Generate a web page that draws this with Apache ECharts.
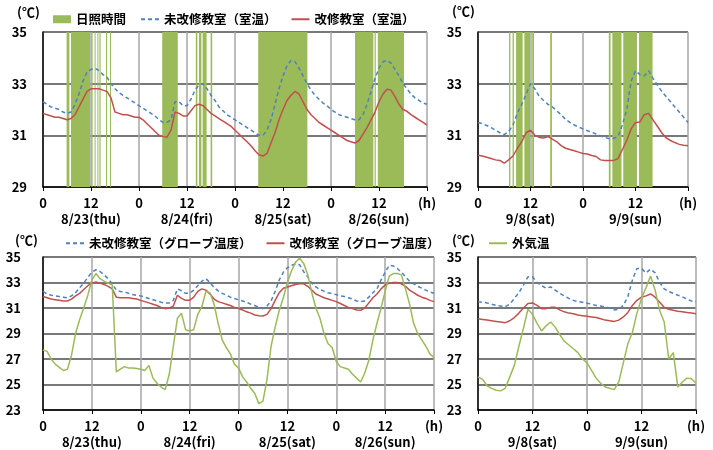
<!DOCTYPE html>
<html>
<head>
<meta charset="utf-8">
<script src="https://cdn.jsdelivr.net/npm/echarts@6/dist/echarts.min.js"></script>
<style>
html, body { margin: 0; padding: 0; background: #fff; }
#chart { width: 713px; height: 450px; }
</style>
</head>
<body>
<div id="chart"></div>
<script>
// 値は1時間ごと（0h〜）。8月は4日分(0〜96h)、9月は2日分(0〜48h)
const datesAug = ['8/23(thu)', '8/24(fri)', '8/25(sat)', '8/26(sun)'];
const datesSep = ['9/8(sat)', '9/9(sun)'];

// 室温 8/23〜8/26
const roomOldAug = [
    32.3, 32.2, 32.1, 32.05, 32.0, 31.9, 31.85, 31.9, 32.2, 32.6, 33.1, 33.45, 33.55, 33.6, 33.5, 33.35, 33.25, 33.0, 32.8, 32.65, 32.55, 32.45, 32.35, 32.25,
    32.15, 32.05, 31.95, 31.85, 31.75, 31.6, 31.5, 31.5, 31.6, 32.3, 32.3, 32.15, 32.15, 32.4, 32.75, 32.95, 33.0, 32.8, 32.55, 32.35, 32.1, 31.95, 31.8, 31.7,
    31.6, 31.5, 31.4, 31.3, 31.2, 31.1, 31.0, 31.0, 31.2, 31.6, 32.2, 32.8, 33.3, 33.7, 33.9, 33.85, 33.6, 33.3, 33.0, 32.75, 32.55, 32.4, 32.25, 32.15,
    32.0, 31.9, 31.8, 31.75, 31.7, 31.65, 31.6, 31.6, 31.8, 32.2, 32.7, 33.2, 33.6, 33.85, 33.9, 33.8, 33.55, 33.3, 33.0, 32.8, 32.6, 32.45, 32.35, 32.25, 32.2
];
const roomNewAug = [
    31.85, 31.8, 31.75, 31.7, 31.7, 31.65, 31.6, 31.65, 31.8, 32.1, 32.4, 32.7, 32.8, 32.8, 32.8, 32.75, 32.7, 32.45, 31.9, 31.85, 31.8, 31.8, 31.75, 31.7,
    31.7, 31.6, 31.45, 31.3, 31.15, 31.0, 30.95, 30.93, 31.2, 31.9, 31.85, 31.75, 31.75, 31.95, 32.15, 32.2, 32.15, 32.0, 31.85, 31.75, 31.65, 31.55, 31.45, 31.35,
    31.2, 31.05, 30.9, 30.75, 30.6, 30.4, 30.25, 30.2, 30.3, 30.7, 31.1, 31.6, 32.0, 32.35, 32.55, 32.7, 32.6, 32.3, 32.0, 31.8, 31.65, 31.5, 31.4, 31.3,
    31.2, 31.1, 31.0, 30.9, 30.8, 30.75, 30.7, 30.8, 31.05, 31.3, 31.6, 31.9, 32.3, 32.6, 32.78, 32.75, 32.5, 32.2, 32.0, 31.93, 31.8, 31.7, 31.6, 31.5, 31.4
];
// 日照時間（日照のあった時間帯 [開始h, 終了h]）
const sunAug = [
    [5.9, 6.6], [7.0, 11.75], [12.1, 12.4], [12.9, 13.1], [13.6, 13.8], [14.1, 14.4], [15.75, 16.0], [16.75, 17.0],
    [29.8, 33.7], [38.2, 38.6], [39.0, 39.6], [39.9, 40.9], [41.9, 42.3],
    [53.8, 66.1],
    [78.0, 82.6], [82.9, 83.2], [83.7, 90.25]
];

// 室温 9/8〜9/9
const roomOldSep = [
    31.5, 31.45, 31.38, 31.3, 31.2, 31.1, 31.03, 31.15, 31.4, 31.85, 32.2, 32.6, 33.0, 32.8, 32.5, 32.35, 32.2, 32.1, 31.95, 31.8, 31.62, 31.5, 31.4, 31.32,
    31.25, 31.18, 31.12, 31.05, 30.98, 30.92, 30.87, 30.88, 30.95, 31.4, 32.0, 33.1, 33.5, 33.35, 33.3, 33.5, 33.2, 32.95, 32.7, 32.5, 32.3, 32.1, 31.9, 31.7, 31.5
];
const roomNewSep = [
    30.23, 30.2, 30.15, 30.1, 30.05, 30.03, 29.92, 30.05, 30.2, 30.5, 30.75, 31.1, 31.2, 31.0, 30.92, 30.9, 30.95, 30.85, 30.75, 30.6, 30.5, 30.45, 30.4, 30.35,
    30.3, 30.28, 30.22, 30.18, 30.05, 30.03, 30.03, 30.03, 30.1, 30.45, 30.8, 31.25, 31.5, 31.52, 31.8, 31.85, 31.6, 31.35, 31.1, 30.9, 30.8, 30.72, 30.65, 30.62, 30.6
];
const sunSep = [
    [7.1, 7.4], [7.9, 8.2], [8.7, 10.2], [10.6, 11.9], [12.4, 12.8], [16.5, 16.9],
    [29.9, 30.3], [30.7, 32.8], [33.2, 36.3], [36.8, 39.9]
];

// グローブ温度・外気温 8/23〜8/26
const globeOldAug = [
    32.3, 32.1, 32.0, 31.95, 31.9, 31.85, 31.8, 31.95, 32.2, 32.6, 32.95, 33.4, 33.8, 34.0, 33.86, 33.6, 33.3, 32.9, 32.4, 32.3, 32.25, 32.15, 32.05, 32.0,
    31.95, 31.85, 31.75, 31.65, 31.55, 31.45, 31.38, 31.4, 31.6, 32.5, 32.35, 32.15, 32.15, 32.4, 32.75, 33.1, 33.3, 33.0, 32.6, 32.35, 32.15, 32.0, 31.85, 31.75,
    31.65, 31.55, 31.45, 31.3, 31.2, 31.05, 30.95, 31.15, 31.55, 32.3, 33.2, 33.8, 34.15, 34.35, 34.45, 34.4, 33.85, 33.45, 32.95, 32.65, 32.45, 32.32, 32.2, 32.12,
    32.05, 31.95, 31.9, 31.8, 31.7, 31.55, 31.5, 31.55, 31.85, 32.2, 32.5, 33.2, 33.8, 34.35, 34.3, 34.1, 33.8, 33.45, 33.1, 32.9, 32.7, 32.55, 32.4, 32.25, 32.15
];
const globeNewAug = [
    31.9, 31.8, 31.7, 31.65, 31.6, 31.55, 31.55, 31.7, 31.95, 32.15, 32.45, 32.75, 32.95, 33.05, 32.95, 32.85, 32.7, 32.5, 31.85, 31.8, 31.8, 31.8, 31.75, 31.7,
    31.6, 31.5, 31.4, 31.3, 31.2, 31.05, 30.95, 31.0, 31.15, 32.0, 31.75, 31.6, 31.6, 31.85, 32.3, 32.5, 32.4, 32.1, 31.7, 31.5, 31.4, 31.3, 31.2, 31.05,
    30.95, 30.85, 30.7, 30.6, 30.45, 30.4, 30.37, 30.5, 30.95, 31.6, 32.2, 32.55, 32.65, 32.75, 32.85, 32.9, 32.9, 32.7, 32.4, 32.1, 31.95, 31.8, 31.7, 31.6,
    31.5, 31.35, 31.2, 31.05, 30.95, 30.85, 30.82, 31.0, 31.4, 31.8, 32.1, 32.5, 32.8, 32.95, 33.0, 33.0, 32.9, 32.7, 32.4, 32.2, 32.0, 31.85, 31.75, 31.6, 31.5
];
const outdoorAug = [
    27.7, 27.6, 27.0, 26.6, 26.35, 26.1, 26.2, 27.3, 29.0, 30.1, 31.0, 32.0, 33.2, 33.7, 33.3, 33.1, 32.95, 32.8, 26.0, 26.2, 26.4, 26.3, 26.3, 26.25,
    26.2, 26.1, 26.5, 25.5, 25.1, 24.8, 24.6, 25.8, 28.0, 30.2, 30.6, 29.3, 29.2, 29.3, 30.5, 31.1, 32.3, 32.2, 31.3, 29.8, 28.5, 27.9, 27.4, 26.6,
    26.3, 25.6, 25.2, 24.7, 24.3, 23.5, 23.7, 25.4, 28.0, 29.5, 30.8, 31.8, 33.0, 33.9, 34.6, 34.9, 34.5, 33.6, 32.2, 31.0, 30.2, 29.0, 28.2, 27.9,
    26.8, 26.4, 26.3, 26.2, 25.8, 25.5, 25.2, 25.9, 26.9, 28.5, 29.8, 31.0, 32.3, 33.5, 33.7, 33.7, 33.6, 32.5, 31.3, 29.8, 29.0, 28.5, 28.0, 27.4, 27.1
];

// グローブ温度・外気温 9/8〜9/9
const globeOldSep = [
    31.5, 31.45, 31.4, 31.3, 31.2, 31.15, 31.1, 31.3, 31.75, 32.2, 32.8, 33.45, 33.45, 33.0, 32.75, 32.55, 32.65, 32.4, 32.15, 31.95, 31.75, 31.6, 31.5, 31.45,
    31.38, 31.3, 31.2, 31.15, 31.08, 31.0, 30.85, 30.9, 31.2, 31.9, 33.2, 34.1, 34.1, 33.75, 34.05, 33.75, 33.0, 32.5, 32.3, 32.15, 32.0, 31.88, 31.7, 31.55, 31.48
];
const globeNewSep = [
    30.15, 30.1, 30.05, 30.0, 29.95, 29.9, 29.85, 30.0, 30.25, 30.6, 31.0, 31.35, 31.4, 31.2, 30.95, 30.95, 31.05, 31.05, 30.85, 30.7, 30.6, 30.55, 30.45, 30.4,
    30.35, 30.3, 30.25, 30.15, 30.05, 30.0, 29.95, 30.05, 30.3, 30.65, 31.2, 31.6, 31.85, 31.95, 32.1, 31.85, 31.45, 31.05, 30.9, 30.82, 30.75, 30.7, 30.65, 30.6, 30.55
];
const outdoorSep = [
    25.6, 25.4, 24.9, 24.7, 24.55, 24.5, 24.7, 25.6, 26.5, 28.0, 29.4, 30.9, 30.5, 29.8, 29.2, 29.6, 29.9, 29.5, 28.9, 28.4, 28.1, 27.8, 27.5, 27.0,
    26.7, 26.1, 25.5, 25.1, 24.8, 24.7, 24.6, 25.2, 26.7, 28.2, 29.1, 30.6, 31.75, 32.6, 33.5, 32.4, 30.8, 29.9, 27.0, 27.5, 24.8, 25.2, 25.5, 25.45, 25.1
];

const FONT = '"Noto Sans CJK JP", "Noto Sans", sans-serif';
const C_OLD = '#4f81bd';
const C_NEW = '#c0504d';
const C_OUT = '#9bbb59';
const C_SUN = '#9bbb59';

function toPairs(arr) {
    return arr.map((v, i) => [i, v]);
}

// 日照のあった時間帯を縦いっぱいの帯として描く
function renderSun(params, api) {
    let x0 = api.coord([api.value(0), 30])[0];
    let x1 = api.coord([api.value(1), 30])[0];
    let cs = params.coordSys;
    return {
        type: 'rect',
        shape: { x: x0, y: cs.y, width: Math.max(x1 - x0, 1), height: cs.height },
        style: { fill: C_SUN }
    };
}

function xAxisOf(gridIndex, max, dates) {
    return {
        type: 'value',
        gridIndex: gridIndex,
        min: 0,
        max: max,
        interval: 12,
        axisLine: { show: true, onZero: false, lineStyle: { color: '#000', width: 1.5 } },
        axisTick: { show: true, length: 4, lineStyle: { color: '#000' } },
        axisLabel: {
            margin: 8,
            color: '#000',
            fontFamily: FONT,
            fontWeight: 'bold',
            fontSize: 13,
            lineHeight: 16,
            showMaxLabel: true,
            hideOverlap: false,
            formatter: function (v) {
                if (v === max) return '(h)';
                let h = v % 24;
                if (h === 12) return '12\n' + dates[(v - 12) / 24];
                return '' + h;
            }
        },
        splitLine: { show: true, lineStyle: { color: '#a6a6a6', width: 1.5 } }
    };
}

// 目盛りは2℃ごと(奇数)。interval 1 にして偶数の線は透明にする
function yAxisOf(gridIndex, min, margin) {
    return {
        type: 'value',
        gridIndex: gridIndex,
        min: min,
        max: 35,
        interval: 1,
        axisLine: { show: true, lineStyle: { color: '#000', width: 1.5 } },
        axisTick: { show: false },
        axisLabel: {
            margin: margin,
            color: '#000',
            fontFamily: FONT,
            fontWeight: 'bold',
            fontSize: 13,
            formatter: function (v) { return (v % 2 === 1) ? '' + v : ''; }
        },
        splitLine: { show: true, lineStyle: { color: ['#4d4d4d', 'rgba(0,0,0,0)'], width: 1.5 } }
    };
}

function lineSeries(name, data, color, dashed, xi) {
    return {
        type: 'line',
        name: name,
        xAxisIndex: xi,
        yAxisIndex: xi,
        data: toPairs(data),
        symbol: 'none',
        silent: true,
        lineStyle: { color: color, width: 1.5, type: dashed ? [4, 3] : 'solid' },
        itemStyle: { color: color }
    };
}

function sunSeries(data, xi) {
    return {
        type: 'custom',
        name: '日照時間',
        xAxisIndex: xi,
        yAxisIndex: xi,
        renderItem: renderSun,
        encode: { x: [0, 1] },
        itemStyle: { color: C_SUN },
        data: data,
        silent: true
    };
}

// 凡例の線だけ見せて、丸い記号は隠す
function lineLegend(name) {
    return { name: name, itemStyle: { opacity: 0 } };
}

const unitStyle = { text: '(℃)', font: 'bold 13px ' + FONT, fill: '#000' };
const legendText = { color: '#000', fontFamily: FONT, fontWeight: 'bold', fontSize: 12.5 };

let myChart = echarts.init(document.getElementById('chart'));
let option = {
    animation: false,
    backgroundColor: '#fff',
    grid: [
        { left: 43, top: 32, width: 384, height: 155 },
        { left: 478, top: 32, width: 210, height: 155 },
        { left: 43, top: 257, width: 391, height: 154 },
        { left: 478, top: 257, width: 218, height: 154 }
    ],
    xAxis: [
        xAxisOf(0, 96, datesAug),
        xAxisOf(1, 48, datesSep),
        xAxisOf(2, 96, datesAug),
        xAxisOf(3, 48, datesSep)
    ],
    yAxis: [
        yAxisOf(0, 29, 16),
        yAxisOf(1, 29, 16),
        yAxisOf(2, 23, 22),
        yAxisOf(3, 23, 16)
    ],
    legend: [
        {
            left: 53, top: 13, padding: 0, itemWidth: 18, itemHeight: 8, itemGap: 14,
            textStyle: legendText,
            data: [{ name: '日照時間', icon: 'rect' }, lineLegend('未改修教室（室温）'), lineLegend('改修教室（室温）')]
        },
        {
            left: 65, top: 237, padding: 0, itemWidth: 18, itemHeight: 8, itemGap: 14,
            textStyle: legendText,
            data: [lineLegend('未改修教室（グローブ温度）'), lineLegend('改修教室（グローブ温度）')]
        },
        {
            left: 488, top: 237, padding: 0, itemWidth: 18, itemHeight: 8,
            textStyle: legendText,
            data: [lineLegend('外気温')]
        }
    ],
    graphic: [
        { type: 'text', left: 17, top: 6, style: unitStyle },
        { type: 'text', left: 452, top: 5, style: unitStyle },
        { type: 'text', left: 15, top: 234, style: unitStyle },
        { type: 'text', left: 452, top: 234, style: unitStyle }
    ],
    series: [
        sunSeries(sunAug, 0),
        lineSeries('未改修教室（室温）', roomOldAug, C_OLD, true, 0),
        lineSeries('改修教室（室温）', roomNewAug, C_NEW, false, 0),
        sunSeries(sunSep, 1),
        lineSeries('未改修教室（室温）', roomOldSep, C_OLD, true, 1),
        lineSeries('改修教室（室温）', roomNewSep, C_NEW, false, 1),
        lineSeries('未改修教室（グローブ温度）', globeOldAug, C_OLD, true, 2),
        lineSeries('改修教室（グローブ温度）', globeNewAug, C_NEW, false, 2),
        lineSeries('外気温', outdoorAug, C_OUT, false, 2),
        lineSeries('未改修教室（グローブ温度）', globeOldSep, C_OLD, true, 3),
        lineSeries('改修教室（グローブ温度）', globeNewSep, C_NEW, false, 3),
        lineSeries('外気温', outdoorSep, C_OUT, false, 3)
    ]
};
myChart.setOption(option);
</script>
</body>
</html>
